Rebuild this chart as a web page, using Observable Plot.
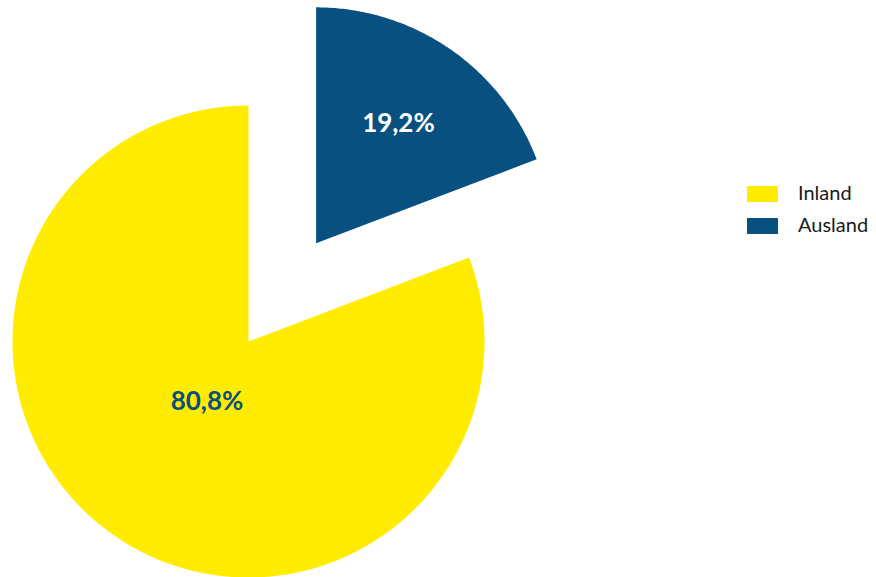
<!DOCTYPE html>
<html>
<head>
<meta charset="utf-8">
<script src="https://cdn.jsdelivr.net/npm/d3@7"></script>
<script src="https://cdn.jsdelivr.net/npm/@observablehq/plot@0.6"></script>
<style>
  html, body { margin: 0; padding: 0; background: #fff; }
  #wrap { position: relative; width: 876px; height: 577px; overflow: hidden; }
  #legend { position: absolute; left: 747px; top: 178px; font-family: Lato, "Open Sans", sans-serif; font-size: 20px; color: #1a1a1a; }
  .item { display: flex; align-items: center; height: 32px; }
  .item span { position: relative; top: -2px; }
  .sw { width: 31px; height: 16px; margin-right: 20px; }
</style>
</head>
<body>
<div id="wrap"><div id="legend"></div></div>
<script>
// Data
const categories = ["Inland", "Ausland"];
const shares = [80.8, 19.2];
const valueLabels = ["80,8%", "19,2%"];
const colors = ["#FFEC00", "#07507F"];
const labelColors = ["#07507F", "#FFFFFF"];

// geometry (data units: radius 1)
const W = 876, H = 577, unit = 236;
const cx = 248, cy = 341; // pixel position of pie centre (used only for scale domains)
const explode = [0, 0.505];
const labelRadius = [0.31, 0.615];

const total = d3.sum(shares);
const start0 = 2 * Math.PI * shares[1] / total;
const arcs = d3.pie().sort(null).startAngle(start0).endAngle(start0 + 2 * Math.PI)(shares);

const poly = [];
const labels = [];
arcs.forEach((a, i) => {
  const mid = (a.startAngle + a.endAngle) / 2;
  const ox = explode[i] * Math.sin(mid), oy = explode[i] * Math.cos(mid);
  poly.push({cat: categories[i], x: ox, y: oy});
  const n = Math.ceil((a.endAngle - a.startAngle) / (Math.PI / 360));
  for (let k = 0; k <= n; k++) {
    const t = a.startAngle + (a.endAngle - a.startAngle) * k / n;
    poly.push({cat: categories[i], x: ox + Math.sin(t), y: oy + Math.cos(t)});
  }
  poly.push({cat: categories[i], x: ox, y: oy});
  labels.push({
    text: valueLabels[i],
    color: labelColors[i],
    x: ox + labelRadius[i] * Math.sin(mid),
    y: oy + labelRadius[i] * Math.cos(mid)
  });
});

const chart = Plot.plot({
  width: W,
  height: H,
  margin: 0,
  x: {domain: [-cx / unit, (W - cx) / unit], axis: null},
  y: {domain: [-(H - cy) / unit, cy / unit], axis: null},
  color: {domain: categories, range: colors},
  marks: [
    Plot.line(poly, {x: "x", y: "y", z: "cat", fill: "cat", stroke: "none", curve: "linear"}),
    Plot.text(labels, {x: "x", y: "y", text: "text", fill: "color", fontSize: 26, fontWeight: "bold", fontFamily: "Lato, 'Open Sans', sans-serif"})
  ]
});
document.getElementById("wrap").prepend(chart);

const legend = d3.select("#legend");
categories.forEach((c, i) => {
  const it = legend.append("div").attr("class", "item");
  it.append("div").attr("class", "sw").style("background", colors[i]);
  it.append("span").text(c);
});
</script>
</body>
</html>
